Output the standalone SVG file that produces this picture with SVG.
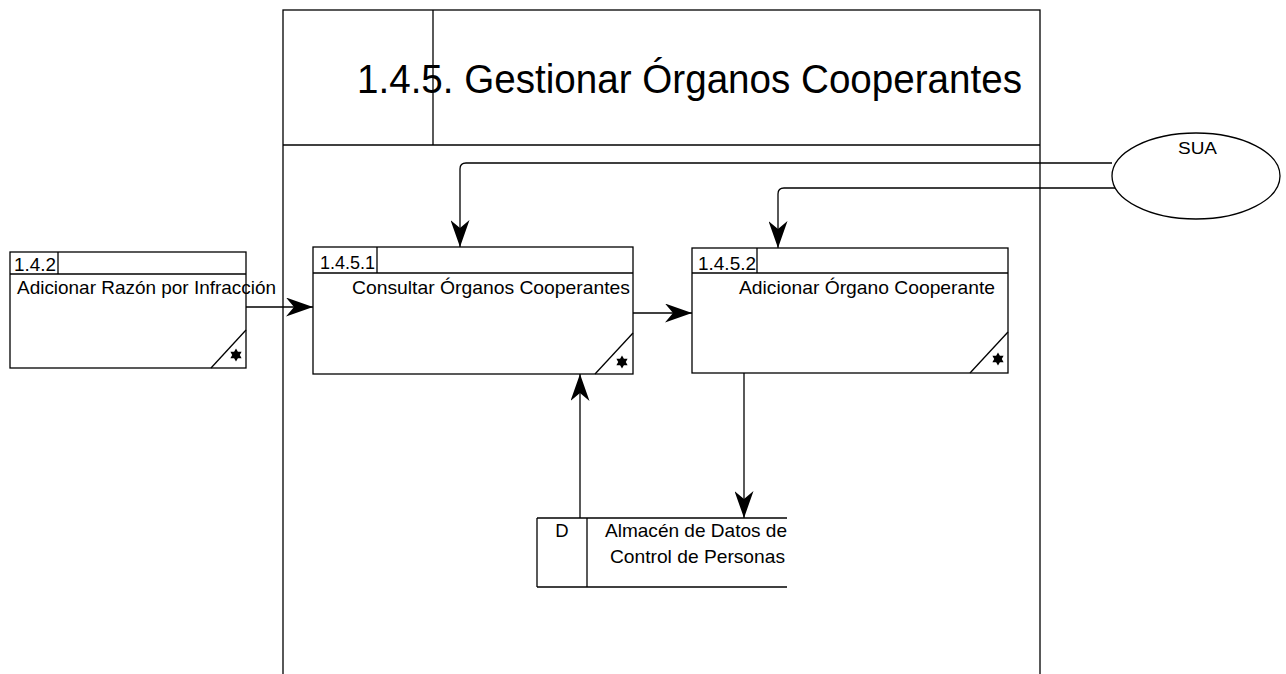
<svg xmlns="http://www.w3.org/2000/svg" width="1286" height="674" viewBox="0 0 1286 674">
  <style>
    .ln { fill: none; stroke: #000; stroke-width: 1.3; }
    .box { fill: #fff; stroke: #000; stroke-width: 1.3; }
    .t { font-family: "Liberation Sans", Arial, sans-serif; fill: #000; }
    .lbl { font-size: 18.5px; }
    .num { font-size: 18.5px; }
    .star { fill: #000; stroke: none; }
  </style>
  <defs>
    <marker id="arrow" viewBox="0 0 27 19" refX="27" refY="9.5" markerWidth="27" markerHeight="19" markerUnits="userSpaceOnUse" orient="auto">
      <path d="M27,9.5 L0,0 L8,9.5 L0,19 Z" fill="#000"/>
    </marker>
    <polygon id="star" class="star" points="0,-6.5 1.9,-3.3 5.6,-3.3 3.8,0 5.6,3.3 1.9,3.3 0,6.5 -1.9,3.3 -5.6,3.3 -3.8,0 -5.6,-3.3 -1.9,-3.3"/>
  </defs>

  <!-- process frame -->
  <g id="frame">
    <rect class="ln" x="283" y="10" width="757" height="680"/>
    <line class="ln" x1="283" y1="145" x2="1040" y2="145"/>
    <line class="ln" x1="433" y1="10" x2="433" y2="145"/>
    <text class="t" x="357" y="93" font-size="41" textLength="665" lengthAdjust="spacingAndGlyphs">1.4.5. Gestionar Órganos Cooperantes</text>
  </g>

  <!-- connectors -->
  <g id="connectors">
    <path class="ln" d="M1112,163 L466,163 Q460,163 460,169 L460,247" marker-end="url(#arrow)"/>
    <path class="ln" d="M1117,188 L784,188 Q778,188 778,194 L778,248" marker-end="url(#arrow)"/>
    <line class="ln" x1="246" y1="307" x2="313" y2="307" marker-end="url(#arrow)"/>
    <line class="ln" x1="633" y1="313" x2="692" y2="313" marker-end="url(#arrow)"/>
    <line class="ln" x1="580" y1="518" x2="580" y2="374" marker-end="url(#arrow)"/>
    <line class="ln" x1="744" y1="373" x2="744" y2="518" marker-end="url(#arrow)"/>
  </g>

  <!-- external entity -->
  <g id="sua">
    <ellipse class="box" cx="1196" cy="176" rx="84" ry="43"/>
    <text class="t" x="1178" y="154" font-size="16" textLength="39" lengthAdjust="spacingAndGlyphs">SUA</text>
  </g>

  <!-- process 1.4.2 -->
  <g id="p142">
    <rect class="box" x="10" y="252" width="236" height="116"/>
    <line class="ln" x1="10" y1="274" x2="246" y2="274"/>
    <line class="ln" x1="58" y1="252" x2="58" y2="274"/>
    <text class="t num" x="14" y="271" textLength="42" lengthAdjust="spacingAndGlyphs">1.4.2</text>
    <text class="t lbl" x="17" y="294" textLength="259" lengthAdjust="spacingAndGlyphs">Adicionar Razón por Infracción</text>
    <line class="ln" x1="211" y1="368" x2="246" y2="330"/>
    <use href="#star" x="236" y="355"/>
  </g>

  <!-- process 1.4.5.1 -->
  <g id="p1451">
    <rect class="box" x="313" y="247" width="320" height="127"/>
    <line class="ln" x1="313" y1="273" x2="633" y2="273"/>
    <line class="ln" x1="377" y1="247" x2="377" y2="273"/>
    <text class="t num" x="320" y="269" textLength="55" lengthAdjust="spacingAndGlyphs">1.4.5.1</text>
    <text class="t lbl" x="352" y="294" textLength="278" lengthAdjust="spacingAndGlyphs">Consultar Órganos Cooperantes</text>
    <line class="ln" x1="595" y1="374" x2="633" y2="333"/>
    <use href="#star" x="622" y="362"/>
  </g>

  <!-- process 1.4.5.2 -->
  <g id="p1452">
    <rect class="box" x="692" y="248" width="316" height="125"/>
    <line class="ln" x1="692" y1="273" x2="1008" y2="273"/>
    <line class="ln" x1="757" y1="248" x2="757" y2="273"/>
    <text class="t num" x="698" y="270" textLength="58" lengthAdjust="spacingAndGlyphs">1.4.5.2</text>
    <text class="t lbl" x="739" y="294" textLength="256" lengthAdjust="spacingAndGlyphs">Adicionar Órgano Cooperante</text>
    <line class="ln" x1="970" y1="373" x2="1008" y2="332"/>
    <use href="#star" x="998" y="359"/>
  </g>

  <!-- data store D -->
  <g id="storeD">
    <rect x="537" y="518" width="250" height="69" fill="#fff"/>
    <line class="ln" x1="537" y1="518" x2="787" y2="518"/>
    <line class="ln" x1="537" y1="587" x2="787" y2="587"/>
    <line class="ln" x1="537" y1="518" x2="537" y2="587"/>
    <line class="ln" x1="587" y1="518" x2="587" y2="587"/>
    <text class="t lbl" x="562" y="537" text-anchor="middle">D</text>
    <text class="t lbl" x="605" y="537" textLength="182" lengthAdjust="spacingAndGlyphs">Almacén de Datos de</text>
    <text class="t lbl" x="610" y="563" textLength="175" lengthAdjust="spacingAndGlyphs">Control de Personas</text>
  </g>
</svg>
